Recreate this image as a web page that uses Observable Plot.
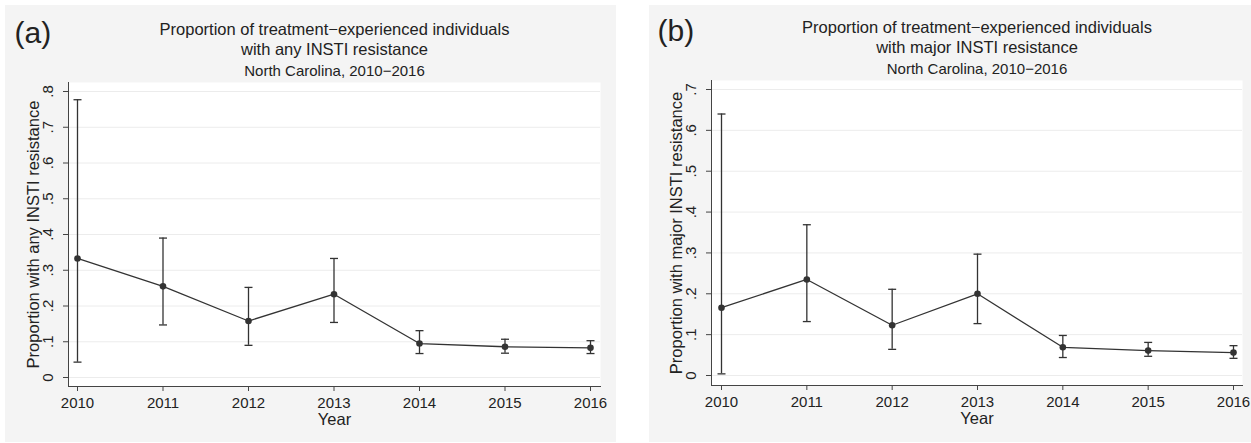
<!DOCTYPE html>
<html><head><meta charset="utf-8">
<script src="https://cdn.jsdelivr.net/npm/d3@7"></script>
<script src="https://cdn.jsdelivr.net/npm/@observablehq/plot@0.6"></script>
<style>
body{margin:0;background:#fff;font-family:"Liberation Sans",Arial,sans-serif;}
#wrap{position:relative;width:1251px;height:443px;overflow:hidden;}
.panel{position:absolute;background:#f4f4f4;}
.panel svg{display:block;background:transparent;}
</style></head><body>
<div id="wrap">
  <div id="pa" class="panel" style="left:5px;top:5px;width:611px;height:437px"></div>
  <div id="pb" class="panel" style="left:649px;top:5px;width:602px;height:437px"></div>
</div>
<script>
// ---- data ----
const years = [2010, 2011, 2012, 2013, 2014, 2015, 2016];

const anyEst = [0.333, 0.255, 0.158, 0.233, 0.095, 0.086, 0.083];
const anyLo  = [0.043, 0.147, 0.090, 0.154, 0.067, 0.068, 0.067];
const anyHi  = [0.777, 0.390, 0.252, 0.333, 0.131, 0.107, 0.103];

const majEst = [0.166, 0.235, 0.123, 0.200, 0.069, 0.061, 0.056];
const majLo  = [0.004, 0.132, 0.064, 0.127, 0.044, 0.047, 0.042];
const majHi  = [0.640, 0.369, 0.211, 0.297, 0.098, 0.081, 0.073];

const anyTicks = [0, 0.1, 0.2, 0.3, 0.4, 0.5, 0.6, 0.7, 0.8];
const majTicks = [0, 0.1, 0.2, 0.3, 0.4, 0.5, 0.6, 0.7];

const panelA = {
  tag: "(a)",
  title: "Proportion of treatment\u2212experienced individuals\nwith any INSTI resistance",
  subtitle: "North Carolina, 2010\u22122016",
  ylabel: "Proportion with any INSTI resistance"
};
const panelB = {
  tag: "(b)",
  title: "Proportion of treatment\u2212experienced individuals\nwith major INSTI resistance",
  subtitle: "North Carolina, 2010\u22122016",
  ylabel: "Proportion with major INSTI resistance"
};
const xLabel = "Year";

// ---- drawing ----
const ink = "#333";
const txt = "#222";
const capSymbol = {
  draw(ctx, size) {
    const w = Math.sqrt(size / Math.PI);
    ctx.moveTo(-w, 0);
    ctx.lineTo(w, 0);
  }
};
const yFmt = d => d === 0 ? "0" : d3.format(".1f")(d).replace(/^0/, "");

function makePanel(info, est, lo, hi, yTicks, geo) {
  const rows = years.map((year, i) => ({year, est: est[i], lo: lo[i], hi: hi[i]}));
  return Plot.plot({
    width: geo.width,
    height: geo.height,
    marginTop: geo.mt, marginLeft: geo.ml, marginRight: geo.mr, marginBottom: geo.mb,
    style: {background: "transparent", fontFamily: "'Liberation Sans', Arial, sans-serif", color: txt},
    x: {domain: [years[0], years[years.length - 1]], insetLeft: geo.xil, insetRight: geo.xir},
    y: {domain: [yTicks[0], yTicks[yTicks.length - 1]], insetTop: geo.yit, insetBottom: geo.yib},
    marks: [
      Plot.frame({fill: "white", stroke: null}),
      Plot.gridY(yTicks, {stroke: "#ececec", strokeOpacity: 1}),
      Plot.frame({anchor: "left", stroke: "#444"}),
      Plot.frame({anchor: "bottom", stroke: "#444"}),
      Plot.axisY(yTicks, {tickFormat: () => "", tickSize: 5, label: null, stroke: "#444"}),
      Plot.text(yTicks, {y: d => d, frameAnchor: "left", text: yFmt, rotate: -90, dx: -20, textAnchor: "middle", lineAnchor: "middle", fontSize: 15, fill: txt}),
      Plot.axisX(years, {tickFormat: d => String(d), tickSize: 5, tickPadding: 6, fontSize: 15, label: null, stroke: "#444", fill: txt}),
      Plot.ruleX(rows, {x: "year", y1: "lo", y2: "hi", stroke: ink, strokeWidth: 1.3}),
      Plot.dot(rows, {x: "year", y: "lo", symbol: capSymbol, r: 4, stroke: ink, strokeWidth: 1.3, fill: "none"}),
      Plot.dot(rows, {x: "year", y: "hi", symbol: capSymbol, r: 4, stroke: ink, strokeWidth: 1.3, fill: "none"}),
      Plot.line(rows, {x: "year", y: "est", stroke: ink, strokeWidth: 1.3}),
      Plot.dot(rows, {x: "year", y: "est", r: 3.3, fill: ink, stroke: null}),
      Plot.text([info.tag], {frameAnchor: "top-left", text: d => d, dx: -54, dy: -40, fontSize: 30, textAnchor: "start", lineAnchor: "bottom", fill: txt}),
      Plot.text([info.title], {frameAnchor: "top", text: d => d, dy: -28, fontSize: 16.5, lineHeight: 1.17, lineAnchor: "bottom", fill: txt}),
      Plot.text([info.subtitle], {frameAnchor: "top", text: d => d, dy: -7, fontSize: 15, lineAnchor: "bottom", fill: txt}),
      Plot.text([info.ylabel], {frameAnchor: "left", text: d => d, dx: -35, rotate: -90, fontSize: 16.5, textAnchor: "middle", lineAnchor: "middle", fill: txt}),
      Plot.text([xLabel], {frameAnchor: "bottom", text: d => d, dy: 38, fontSize: 16.5, lineAnchor: "bottom", fill: txt})
    ]
  });
}

document.getElementById("pa").append(makePanel(panelA, anyEst, anyLo, anyHi, anyTicks,
  {width: 611, height: 437, mt: 77, ml: 63, mr: 16, mb: 56, xil: 9, xir: 10, yit: 9, yib: 9}));
document.getElementById("pb").append(makePanel(panelB, majEst, majLo, majHi, majTicks,
  {width: 602, height: 437, mt: 75, ml: 62, mr: 9, mb: 57, xil: 10, xir: 9, yit: 9, yib: 10}));
</script>
</body></html>
